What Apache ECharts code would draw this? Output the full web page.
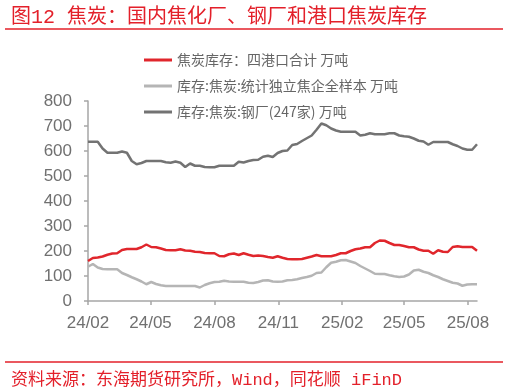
<!DOCTYPE html>
<html>
<head>
<meta charset="utf-8">
<script src="https://cdn.jsdelivr.net/npm/echarts@6/dist/echarts.min.js"></script>
<style>
html,body{margin:0;padding:0;background:#fff;}
#c{width:511px;height:390px;}
</style>
</head>
<body>
<div id="c"></div>
<script>
// Weekly observations starting 2024-02-01, every 7 days
var startDate = '2024-02-01';
var stepDays = 7;
var totalDays = 560;
var seriesNames = ['焦炭库存：四港口合计 万吨', '库存:焦炭:统计独立焦企全样本 万吨', '库存:焦炭:钢厂(247家) 万吨'];
var portStock = [160,172,174,178,185,190,191,204,208,208,208,215,226,216,215,210,204,203,203,207,202,201,197,196,192,191,191,180,179,187,190,184,191,185,180,182,180,176,173,179,173,168,167,167,168,173,178,184,179,179,179,184,191,191,200,207,210,215,215,232,242,241,232,224,224,220,215,215,206,201,201,189,203,197,196,216,219,216,216,216,201];
var cokingStock = [137,148,134,128,127,127,127,112,104,95,87,78,67,76,68,63,60,60,60,60,60,60,60,54,64,71,76,77,81,78,77,77,77,73,72,76,82,83,78,77,78,83,84,87,92,96,101,112,114,135,153,157,163,164,158,152,140,130,120,109,108,108,103,99,96,98,106,122,125,117,112,103,96,87,80,73,70,61,66,67,67];
var steelStock = [637,637,637,610,593,593,593,598,593,560,547,552,560,560,560,560,555,553,558,553,536,550,541,541,536,535,535,541,541,541,541,557,554,560,564,565,577,581,576,592,600,602,624,628,640,651,662,685,710,703,690,682,677,677,677,677,662,665,671,667,667,667,671,671,662,659,657,650,641,638,625,636,636,636,636,627,620,610,605,605,627];
var tickMonths = [2,5,8,11];
var yTicks = {min:0, max:800, interval:100};

// build daily categories
var days = [];
var d0 = new Date(startDate + 'T00:00:00Z');
for (var i = 0; i <= totalDays; i++) {
  var d = new Date(d0.getTime() + i * 86400000);
  days.push(d.toISOString().slice(0,10));
}
function spread(arr){
  var out = [];
  for (var i = 0; i <= totalDays; i++) out.push('-');
  for (var k = 0; k < arr.length; k++) out[k*stepDays] = arr[k];
  return out;
}
function isTick(idx, val){
  var m = parseInt(val.slice(5,7),10), dd = parseInt(val.slice(8,10),10);
  return dd === 1 && tickMonths.indexOf(m) >= 0;
}
var axisFont = '"Liberation Sans Narrow","Arial Narrow","Liberation Sans",sans-serif';
var redFont = '"Liberation Mono","Noto Sans CJK SC",monospace';
var chart = echarts.init(document.getElementById('c'), null, {renderer:'canvas'});
chart.setOption({
  backgroundColor:'#fff',
  animation:false,
  title:[
    {text:'图12 焦炭：国内焦化厂、钢厂和港口焦炭库存', left:6, top:3,
     textStyle:{color:'#e3202a', fontSize:20, fontWeight:'normal', fontFamily:redFont}},
    {text:'资料来源：东海期货研究所，Wind，同花顺 iFinD', left:6, top:367,
     textStyle:{color:'#e3202a', fontSize:17, fontWeight:'normal', fontFamily:redFont}}
  ],
  graphic:[
    {type:'line', shape:{x1:5,y1:29,x2:503,y2:29}, style:{stroke:'#e3202a', lineWidth:1.5}},
    {type:'line', shape:{x1:5,y1:362,x2:503,y2:362}, style:{stroke:'#e3202a', lineWidth:1.5}}
  ],
  legend:{
    orient:'vertical', left:139, top:48, itemGap:12, itemWidth:28, itemHeight:3, icon:'rect',
    textStyle:{color:'#666', fontSize:14, fontFamily:'"Noto Sans CJK SC",sans-serif'},
    data:seriesNames
  },
  grid:{left:88, right:34, top:101, bottom:89, containLabel:false},
  xAxis:{
    type:'category', data:days, boundaryGap:false,
    axisLine:{lineStyle:{color:'#a6a6a6', width:1.5}},
    axisTick:{show:true, interval:isTick, length:4, lineStyle:{color:'#a6a6a6', width:1.5}},
    axisLabel:{interval:isTick, margin:14, color:'#707070', fontSize:17, fontFamily:axisFont,
      formatter:function(v){return v.slice(2,4)+'/'+v.slice(5,7);}},
    splitLine:{show:false}
  },
  yAxis:{
    type:'value', min:yTicks.min, max:yTicks.max, interval:yTicks.interval,
    axisLine:{show:true, lineStyle:{color:'#a6a6a6', width:1.5}},
    axisTick:{show:true, length:4, lineStyle:{color:'#a6a6a6', width:1.5}},
    axisLabel:{margin:16, color:'#707070', fontSize:17, fontFamily:axisFont},
    splitLine:{show:false}
  },
  series:[
    {name:seriesNames[0], type:'line', data:spread(portStock), connectNulls:true, symbol:'none',
     lineStyle:{color:'#e0262c', width:2.5}, itemStyle:{color:'#e0262c'}, z:4},
    {name:seriesNames[1], type:'line', data:spread(cokingStock), connectNulls:true, symbol:'none',
     lineStyle:{color:'#b5b5b5', width:2.5}, itemStyle:{color:'#b5b5b5'}, z:3},
    {name:seriesNames[2], type:'line', data:spread(steelStock), connectNulls:true, symbol:'none',
     lineStyle:{color:'#737373', width:2.5}, itemStyle:{color:'#737373'}, z:3}
  ]
});
</script>
</body>
</html>
